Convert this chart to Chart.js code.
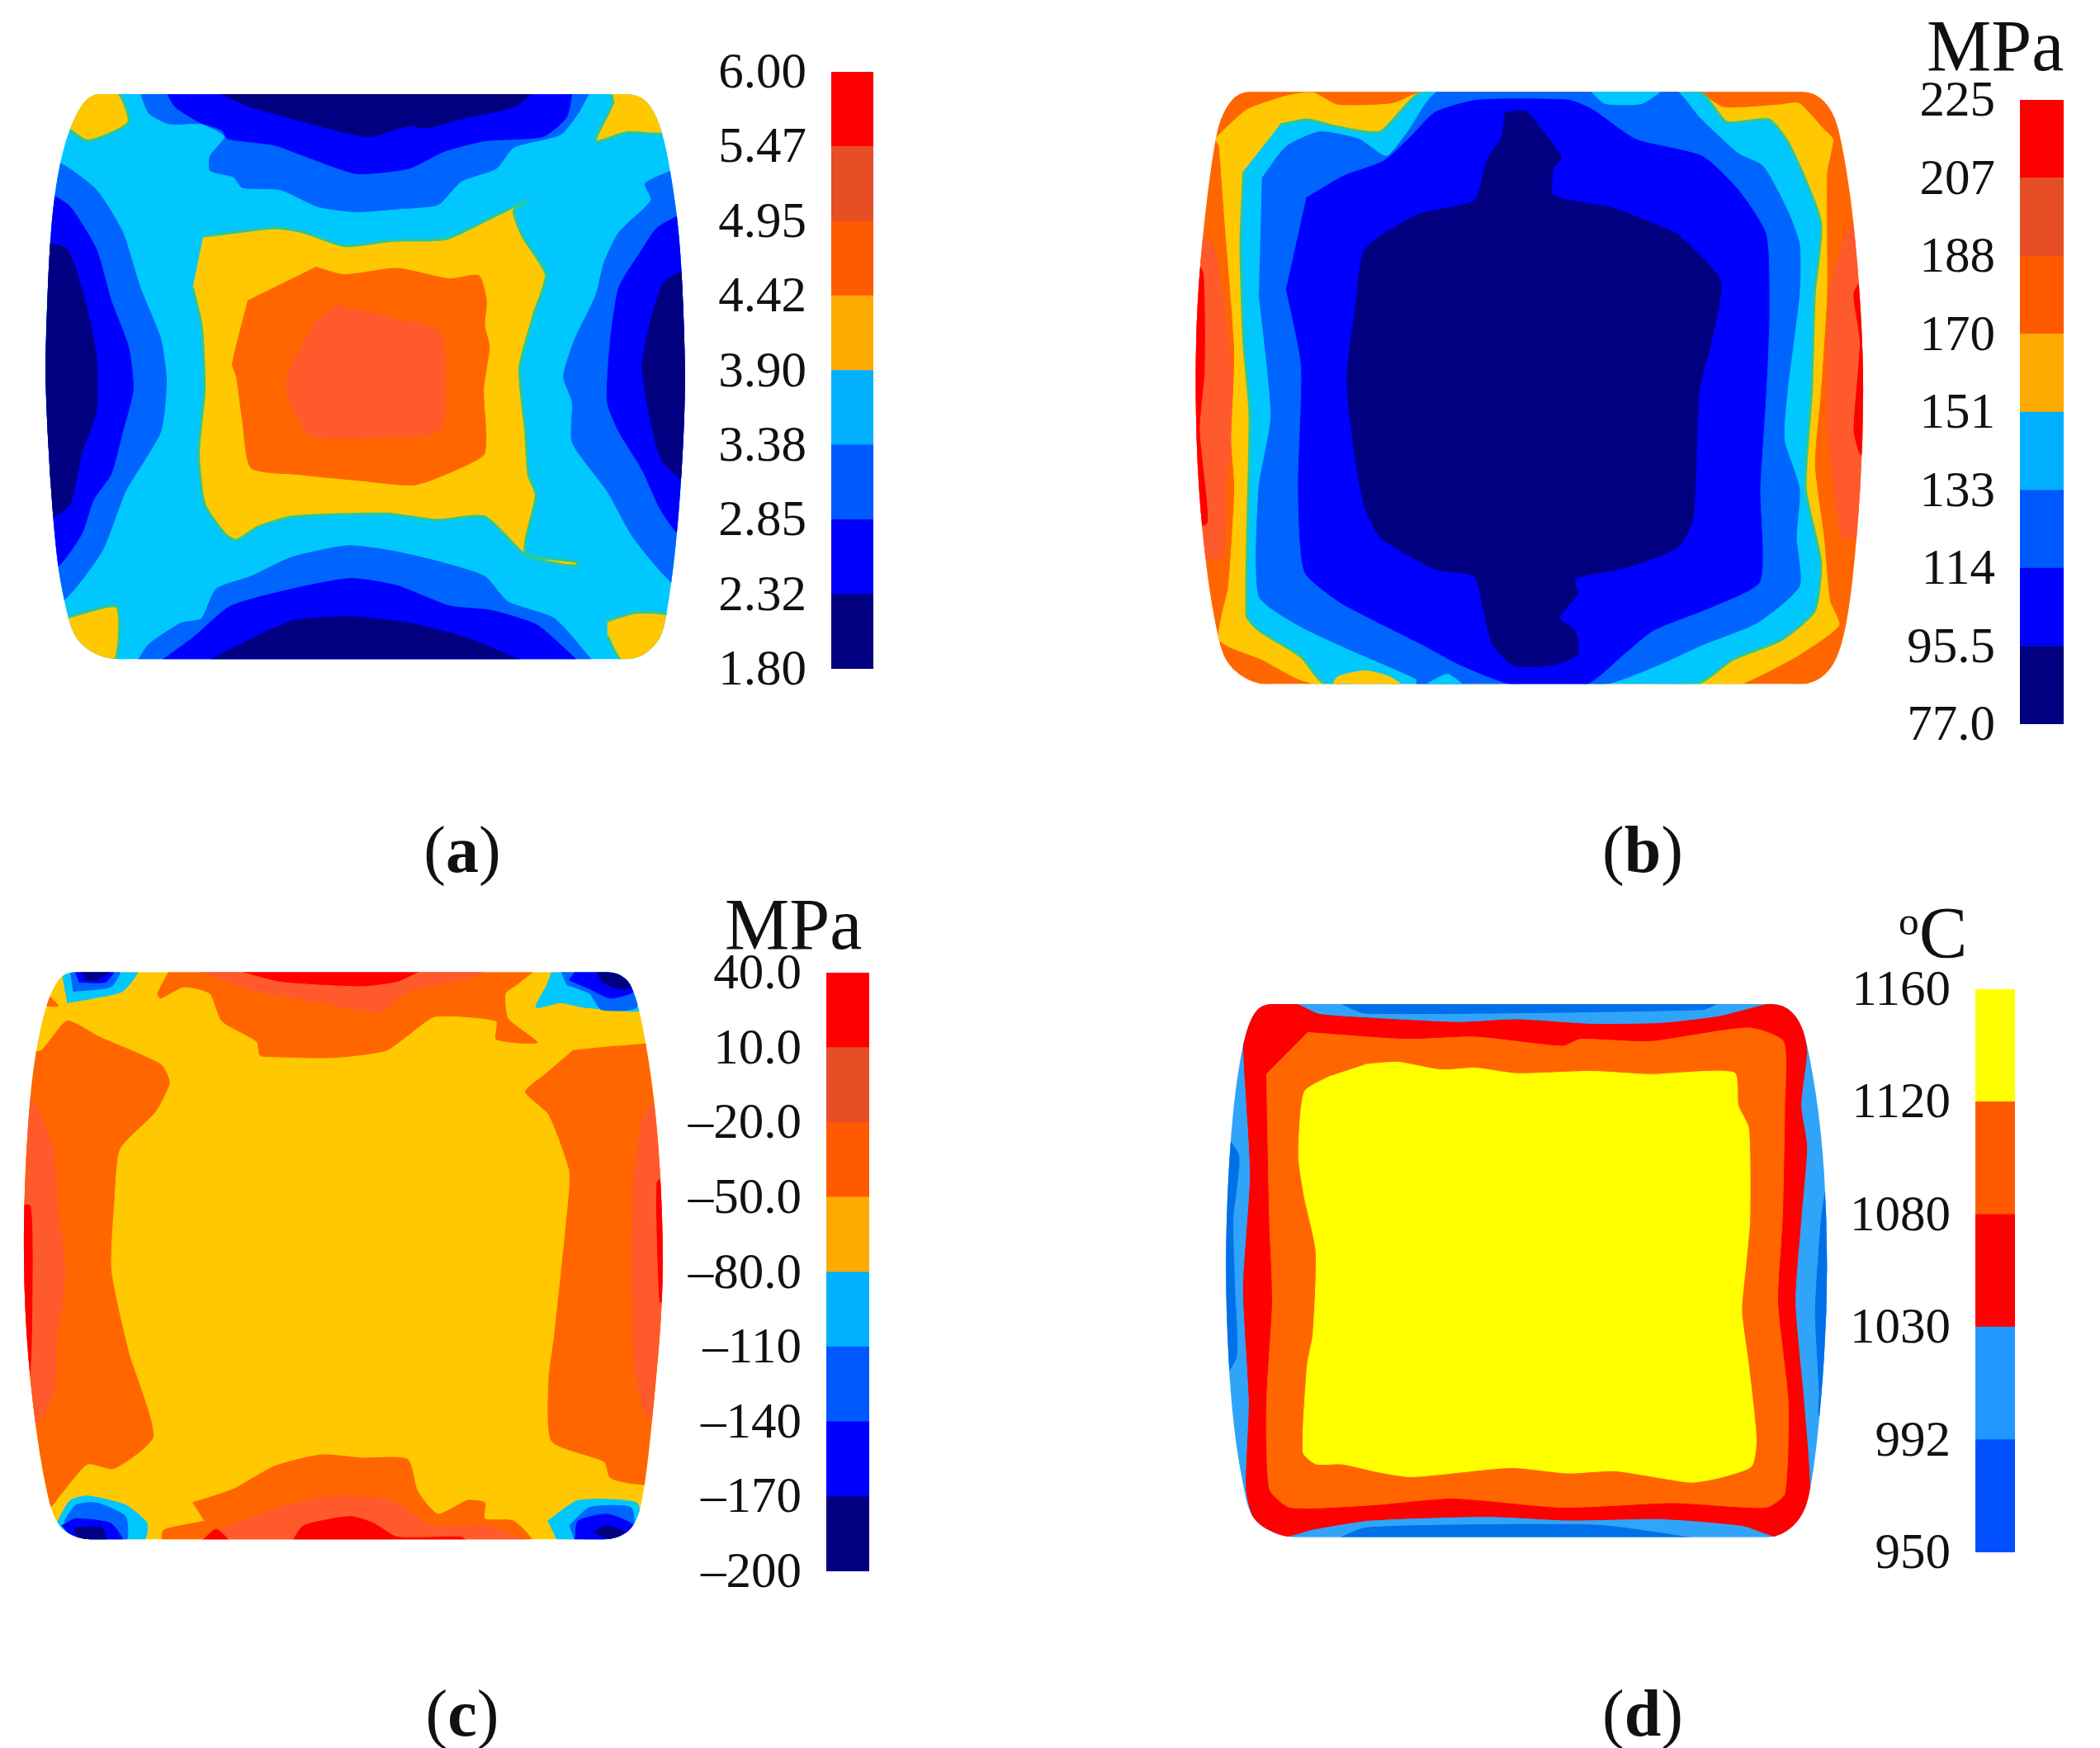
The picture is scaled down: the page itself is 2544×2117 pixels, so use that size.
<!DOCTYPE html>
<html>
<head>
<meta charset="utf-8">
<title>Contour maps</title>
<script src="https://cdn.jsdelivr.net/npm/chart.js@4"></script>
<style>
  html, body { margin: 0; padding: 0; background: #fff; width: 2544px; height: 2117px; overflow: hidden; }
  canvas { position: absolute; }
  .txt { position: absolute; font-family: "Liberation Serif", serif; color: #111; line-height: 1; white-space: nowrap; }
  .unit { font-size: 88px; }
  .cap { font-size: 80px; transform: translateX(-50%); }
  sup { font-size: 56%; vertical-align: 0.55em; line-height: 0; }
</style>
</head>
<body>
<canvas id="mapA"></canvas><canvas id="barA"></canvas>
<canvas id="mapB"></canvas><canvas id="barB"></canvas>
<canvas id="mapC"></canvas><canvas id="barC"></canvas>
<canvas id="mapD"></canvas><canvas id="barD"></canvas>
<div class="txt unit" style="left:2334px;top:12px">MPa</div>
<div class="txt unit" style="left:878px;top:1076px">MPa</div>
<div class="txt unit" style="left:2300px;top:1086px"><sup>o</sup>C</div>
<div class="txt cap" style="left:560px;top:989px">(<b>a</b>)</div>
<div class="txt cap" style="left:1990px;top:989px">(<b>b</b>)</div>
<div class="txt cap" style="left:560px;top:2035px">(<b>c</b>)</div>
<div class="txt cap" style="left:1990px;top:2035px">(<b>d</b>)</div>
<script>
// colour bar labels, bottom to top
const ticksA = ['1.80', '2.32', '2.85', '3.38', '3.90', '4.42', '4.95', '5.47', '6.00'];
const ticksB = ['77.0', '95.5', '114', '133', '151', '170', '188', '207', '225'];
const ticksC = ['–200', '–170', '–140', '–110', '–80.0', '–50.0', '–20.0', '10.0', '40.0'];
const ticksD = ['950', '992', '1030', '1080', '1120', '1160'];

const barColors = ['#000080', '#0000ff', '#0058ff', '#00b0ff', '#ffaa00', '#ff5a00', '#e64e26', '#ff0000'];
const barColorsD = ['#0050ff', '#2098ff', '#ff0000', '#ff5a00', '#ffff00'];

// map colours
const navy = '#000080', blue = '#0000ff', mid = '#0064ff', sky = '#00c8ff';
const gold = '#ffc800', orange = '#ff6600', coral = '#ff5a2b', red = '#ff0000';
const skyD = '#30a4f8', midD = '#0070e8', yellow = '#ffff00';

// ----- panel a, contour outlines
const outlineA = [[150,105],[190,105],[1050,105],[1090,105],[1115,130],[1135,195],[1150,300],[1165,450],[1173,700],[1173,850],[1165,1050],[1155,1200],[1145,1300],[1135,1380],[1110,1420],[1085,1435],[1050,1435],[225,1435],[190,1435],[155,1420],[125,1380],[110,1300],[97,1200],[85,1000],[78,800],[78,700],[85,450],[97,300],[118,185]];
const aTopMid = [[240,100],[255,150],[290,175],[345,175],[385,205],[360,250],[360,285],[400,300],[415,325],[480,330],[545,370],[610,382],[680,375],[750,365],[790,310],[850,280],[880,230],[960,200],[990,150],[1010,100]];
const aTopBlue = [[285,100],[300,135],[340,170],[380,190],[390,210],[470,225],[520,250],[610,292],[700,280],[760,240],[830,215],[930,205],[970,160],[980,100]];
const aTopNavy = [[370,100],[430,135],[520,170],[630,205],[700,180],[730,185],[800,160],[880,135],[915,100]];
const aLeftMid = [[60,262],[100,265],[165,330],[210,430],[240,560],[275,680],[285,780],[275,900],[215,1040],[175,1180],[110,1295],[60,1295]];
const aLeftBlue = [[60,340],[85,340],[120,370],[165,470],[190,590],[220,700],[228,800],[210,900],[190,1000],[160,1060],[140,1140],[100,1215],[60,1215]];
const aLeftNavy = [[60,450],[115,470],[145,590],[165,720],[165,850],[140,950],[120,1070],[90,1100],[60,1100]];
const aRightMid = [[1160,280],[1105,315],[1115,355],[1060,430],[1035,500],[1020,580],[985,680],[965,770],[980,830],[980,925],[1040,1040],[1085,1150],[1155,1260],[1200,1260],[1200,280]];
const aRightBlue = [[1170,385],[1125,420],[1100,470],[1060,560],[1045,690],[1040,830],[1060,900],[1100,990],[1130,1080],[1165,1145],[1200,1145],[1200,385]];
const aRightNavy = [[1190,510],[1135,550],[1100,740],[1115,880],[1135,970],[1190,1040]];
const aBotMid = [[235,1440],[255,1400],[310,1350],[345,1340],[370,1270],[430,1240],[500,1195],[595,1168],[670,1180],[750,1205],[830,1240],[870,1300],[950,1340],[1015,1440]];
const aBotBlue = [[275,1440],[330,1385],[395,1310],[500,1270],[600,1245],[680,1262],[770,1310],[840,1320],[920,1355],[990,1440]];
const aBotNavy = [[355,1440],[420,1395],[500,1345],[600,1335],[700,1350],[800,1385],[895,1440]];
const aCornerTL = [[100,100],[200,100],[220,172],[150,215],[115,185]];
const aCornerTR = [[1045,100],[1050,125],[1020,215],[1075,195],[1145,195],[1145,100]];
const aCornerTRtip = [[1085,100],[1125,100],[1125,130]];
const aCornerBL = [[100,1345],[120,1335],[200,1312],[195,1440],[100,1440]];
const aCornerBR = [[1040,1345],[1090,1325],[1150,1335],[1150,1440],[1065,1440],[1040,1380]];
const aCentre = [[348,440],[470,420],[520,430],[590,462],[670,450],[765,445],[850,390],[905,355],[880,380],[895,440],[935,530],[915,620],[890,750],[900,900],[905,1000],[918,1050],[900,1185],[985,1205],[990,1215],[960,1212],[900,1190],[830,1100],[750,1108],[660,1093],[500,1100],[440,1125],[405,1155],[385,1140],[350,1070],[340,950],[350,800],[345,650],[330,560]];
const aCore = [[540,512],[590,530],[680,515],[770,540],[820,532],[833,590],[830,650],[838,700],[828,800],[830,950],[780,990],[710,1025],[620,1015],[510,1000],[430,985],[415,870],[405,770],[398,740],[425,590]];
const aPeak = [[575,600],[680,635],[755,665],[755,895],[660,912],[530,908],[490,785],[540,640]];

// ----- panel b
const outlineB = [[135,188],[175,188],[1045,188],[1085,188],[1115,225],[1130,290],[1150,450],[1165,700],[1165,900],[1155,1100],[1140,1270],[1120,1360],[1085,1400],[1045,1400],[200,1400],[160,1400],[115,1360],[100,1290],[85,1180],[70,1000],[65,800],[68,620],[80,450],[97,290],[110,230]];
const bLeftCoral = [[60,480],[95,500],[120,700],[132,850],[115,1000],[110,1140],[60,1140]];
const bLeftRed = [[60,520],[78,560],[80,760],[72,880],[85,1070],[60,1080]];
const bRightCoral = [[1170,430],[1140,470],[1110,600],[1105,850],[1130,1100],[1170,1100]];
const bRightRed = [[1170,560],[1150,600],[1160,700],[1150,880],[1160,930],[1170,930]];
const bGoldRing = [[97,285],[150,225],[220,195],[260,190],[300,215],[390,212],[440,188],[890,188],[935,220],[1025,215],[1060,212],[1100,265],[1115,285],[1105,355],[1105,600],[1095,800],[1085,950],[1100,1100],[1110,1230],[1125,1280],[1060,1340],[1000,1380],[950,1405],[285,1405],[235,1390],[175,1350],[105,1310],[120,1200],[130,1000],[125,900],[130,720],[115,470],[105,300]];
const bSkyRing = [[205,255],[250,245],[300,260],[370,270],[440,188],[895,188],[940,250],[1010,245],[1045,300],[1095,455],[1085,600],[1080,800],[1070,1000],[1095,1150],[1085,1250],[1030,1310],[950,1350],[890,1400],[280,1400],[240,1345],[170,1290],[150,1260],[155,850],[145,700],[140,500],[145,350]];
const bBotGold = [[290,1405],[300,1385],[345,1373],[385,1385],[410,1405]];
const bMidRing = [[175,365],[215,300],[270,270],[335,285],[380,320],[415,270],[465,188],[720,188],[740,210],[830,188],[860,188],[895,240],[960,315],[1000,340],[1040,430],[1060,500],[1060,600],[1040,800],[1035,900],[1060,1000],[1055,1100],[1060,1200],[990,1275],[900,1320],[830,1360],[740,1400],[430,1400],[430,1390],[320,1330],[235,1280],[170,1220],[170,1000],[190,850],[170,600]];
const bTopSky = [[715,185],[740,212],[800,212],[835,185]];
const bBotSky = [[440,1405],[480,1380],[510,1405]];
const bBlueRing = [[248,405],[310,360],[375,330],[420,280],[460,230],[530,205],[680,205],[720,225],[790,285],[900,320],[960,390],[1005,480],[1010,640],[1005,800],[995,1000],[995,1190],[920,1240],[820,1290],[770,1340],[710,1400],[585,1400],[500,1360],[440,1320],[360,1270],[300,1230],[245,1170],[235,1000],[240,750],[215,590]];
const bCore = [[575,230],[610,228],[635,265],[668,322],[655,345],[655,400],[750,425],[825,460],[860,480],[930,575],[915,700],[895,800],[885,1060],[860,1120],[780,1160],[690,1185],[695,1215],[665,1265],[690,1290],[695,1340],[650,1362],[590,1362],[555,1320],[540,1250],[525,1180],[460,1165],[370,1100],[345,1040],[330,950],[315,780],[330,620],[345,510],[430,440],[525,410],[545,330],[570,280]];

// ----- panel c
const outlineC = [[108,158],[148,158],[1020,158],[1060,158],[1085,190],[1105,300],[1125,480],[1135,700],[1135,880],[1120,1100],[1105,1280],[1090,1370],[1055,1400],[1015,1400],[175,1400],[135,1400],[95,1370],[75,1270],[55,1100],[42,900],[40,680],[50,440],[65,300],[85,205]];
const cLeftOrange = [[30,330],[70,330],[115,265],[170,300],[275,360],[290,400],[265,465],[205,545],[195,660],[190,810],[220,990],[262,1175],[195,1245],[150,1235],[105,1300],[85,1330],[30,1330]];
const cLeftCoral = [[30,440],[55,440],[90,540],[100,680],[112,820],[95,980],[95,1060],[70,1140],[30,1140]];
const cLeftRed = [[30,670],[52,670],[55,850],[50,1050],[30,1050]];
const cRightOrange = [[980,330],[1060,320],[1140,325],[1140,1275],[1085,1278],[1045,1265],[1035,1230],[945,1185],[940,1050],[950,950],[975,640],[975,590],[940,470],[900,420],[930,385]];
const cRightCoral = [[1140,440],[1105,460],[1085,620],[1085,1000],[1100,1110],[1125,1150],[1140,1150]];
const cRightRed = [[1140,600],[1125,620],[1130,880],[1140,880]];
const cTopOrange = [[290,155],[270,205],[275,215],[315,190],[360,205],[380,265],[440,310],[445,340],[465,343],[570,345],[660,330],[700,295],[745,255],[850,265],[850,305],[920,312],[870,260],[865,205],[885,185],[915,155]];
const cTopCoral = [[340,155],[440,200],[550,225],[650,245],[700,200],[820,165],[830,155]];
const cTopRed = [[410,155],[480,178],[620,188],[680,178],[720,155]];
const cTLsky = [[105,155],[235,155],[210,200],[160,215],[115,225]];
const cTLmid = [[120,155],[205,155],[190,190],[125,200]];
const cTLblue = [[128,155],[195,155],[180,180],[135,180]];
const cTLnavy = [[140,155],[188,155],[165,175],[145,175]];
const cTLtip = [[80,205],[100,232],[80,232]];
const cTRsky = [[945,155],[1075,155],[1105,240],[1000,235],[960,225],[918,235],[935,190]];
const cTRmid = [[960,155],[1075,155],[1090,235],[1030,240],[1010,205],[970,185]];
const cTRblue = [[985,155],[1065,155],[1085,200],[1045,215],[1010,195],[975,175]];
const cTRnavy = [[1020,155],[1065,155],[1085,190],[1060,195],[1030,180]];
const cBotOrange = [[330,1320],[400,1290],[470,1240],[550,1215],[620,1222],[698,1225],[715,1295],[750,1345],[800,1315],[830,1320],[830,1355],[880,1360],[910,1405],[280,1405],[280,1380],[350,1360]];
const cBotCoral = [[380,1375],[480,1330],[570,1305],[670,1315],[740,1370],[830,1370],[900,1405],[340,1405]];
const cBotRed = [[500,1405],[520,1370],[600,1350],[640,1365],[680,1395],[790,1395],[800,1405]];
const cBotRed2 = [[345,1405],[370,1378],[395,1405]];
const cBLsky = [[95,1370],[120,1315],[150,1305],[215,1325],[252,1365],[245,1405],[130,1405]];
const cBLmid = [[110,1360],[130,1325],[165,1320],[215,1350],[215,1405],[125,1405]];
const cBLblue = [[105,1370],[130,1355],[190,1365],[210,1405],[130,1405]];
const cBLnavy = [[125,1375],[175,1375],[180,1405],[135,1405]];
const cBRsky = [[938,1360],[990,1315],[1090,1320],[1095,1375],[1055,1405],[955,1405]];
const cBRmid = [[975,1370],[1010,1330],[1080,1330],[1085,1380],[1050,1405],[985,1405]];
const cBRblue = [[985,1400],[990,1360],[1040,1345],[1085,1370],[1055,1405]];
const cBRnavy = [[1015,1385],[1040,1370],[1070,1385],[1050,1405]];

// ----- panel d
const outlineD = [[110,228],[150,228],[970,228],[1010,228],[1040,265],[1055,340],[1075,500],[1085,700],[1085,900],[1075,1100],[1060,1270],[1045,1350],[1005,1395],[965,1395],[185,1395],[145,1395],[95,1360],[80,1290],[60,1130],[50,900],[50,700],[60,480],[75,340],[90,265]];
const dLeftMid = [[40,500],[72,560],[62,700],[65,850],[68,1000],[40,1060]];
const dRightMid = [[1072,470],[1085,600],[1075,700],[1065,900],[1072,1080],[1072,1130],[1110,1130],[1110,470]];
const dTopMid = [[245,225],[290,248],[870,240],[900,225]];
const dBotMid = [[240,1400],[290,1375],[500,1368],[700,1370],[870,1400]];
const dRed = [[110,228],[170,228],[210,250],[290,258],[450,268],[550,262],[680,272],[800,270],[900,255],[985,228],[1015,228],[1040,270],[1050,330],[1040,450],[1050,540],[1040,700],[1030,880],[1045,1100],[1055,1290],[1040,1355],[1005,1395],[940,1370],[800,1355],[640,1358],[500,1350],[300,1358],[200,1378],[145,1395],[100,1360],[85,1290],[90,1100],[80,850],[92,600],[80,310],[90,265]];
const dOrange = [[190,290],[360,305],[480,300],[630,320],[660,305],[780,310],[950,280],[1010,310],[1012,450],[1008,700],[1000,880],[1018,1100],[1012,1300],[980,1330],[820,1320],[630,1330],[440,1310],[300,1325],[160,1330],[125,1290],[120,1100],[130,880],[125,700],[120,380]];
const dYellow = [[290,360],[345,355],[420,372],[480,368],[550,380],[680,375],[780,382],[925,378],[932,450],[950,500],[952,700],[945,800],[938,900],[950,1020],[963,1180],[955,1240],[900,1265],[850,1275],[720,1250],[640,1255],[540,1243],[370,1263],[310,1252],[250,1235],[205,1235],[183,1210],[190,1020],[200,950],[205,770],[185,650],[175,560],[185,420],[230,385]];

// keep every contour inside the section outline, corners rounded off
const clipOutline = {
  id: 'clipOutline',
  beforeDatasetsDraw(chart, args, opts) {
    const ctx = chart.ctx;
    const pts = opts.points.map(p => [chart.scales.x.getPixelForValue(p[0]), chart.scales.y.getPixelForValue(p[1])]);
    const half = (a, b) => [(a[0] + b[0]) / 2, (a[1] + b[1]) / 2];
    ctx.save();
    ctx.beginPath();
    const start = half(pts[pts.length - 1], pts[0]);
    ctx.moveTo(start[0], start[1]);
    pts.forEach(function (p, i) {
      const next = half(p, pts[(i + 1) % pts.length]);
      ctx.quadraticCurveTo(p[0], p[1], next[0], next[1]);
    });
    ctx.closePath();
    ctx.clip();
  },
  afterDatasetsDraw(chart) {
    chart.ctx.restore();
  }
};

function place(id, left, top, width, height) {
  const c = document.getElementById(id);
  c.style.left = left + 'px';
  c.style.top = top + 'px';
  c.width = width;
  c.height = height;
  return c;
}

function layer(points, color, edge) {
  return {
    data: points.map(p => ({ x: p[0], y: p[1] })),
    showLine: true,
    fill: 'shape',
    backgroundColor: color,
    borderColor: edge || color,
    borderWidth: edge ? 3 : 1,
    pointRadius: 0,
    tension: 0.2
  };
}

// layers are listed back to front, Chart.js paints the last dataset first
function drawMap(id, box, outline, layers) {
  const canvas = place(id, box[0], box[1], box[2], box[3]);
  new Chart(canvas, {
    type: 'scatter',
    data: { datasets: layers.slice().reverse() },
    plugins: [clipOutline],
    options: {
      responsive: false,
      animation: false,
      devicePixelRatio: 1,
      layout: { padding: 0 },
      plugins: { legend: { display: false }, tooltip: { enabled: false }, clipOutline: { points: outline } },
      scales: {
        x: { display: false, min: 0, max: 1555 },
        y: { display: false, min: 0, max: 1555, reverse: true }
      }
    }
  });
}

function drawBar(id, box, labels, colors) {
  const labelWidth = 240, pad = 70;
  const canvas = place(id, box[0] - labelWidth, box[1] - pad, box[2] + labelWidth, box[3] + pad * 2);
  new Chart(canvas, {
    type: 'bar',
    data: {
      labels: [''],
      datasets: colors.map((c, i) => ({
        data: [[i, i + 1]],
        backgroundColor: c,
        barPercentage: 1,
        categoryPercentage: 1,
        borderWidth: 0
      }))
    },
    options: {
      responsive: false,
      animation: false,
      devicePixelRatio: 1,
      layout: { padding: { top: pad, bottom: pad } },
      plugins: { legend: { display: false }, tooltip: { enabled: false } },
      scales: {
        x: { display: false, stacked: true },
        y: {
          min: 0,
          max: labels.length - 1,
          afterFit(scale) { scale.width = labelWidth; },
          border: { display: false },
          grid: { display: false, drawTicks: false },
          ticks: {
            stepSize: 1,
            autoSkip: false,
            padding: 30,
            labelOffset: 3,
            color: '#111',
            font: { family: '"Liberation Serif", serif', size: 61 },
            callback: v => labels[v]
          }
        }
      }
    }
  });
}

drawMap('mapA', [0, 60, 1100, 800], outlineA, [
  layer(outlineA, sky),
  layer(aTopMid, mid), layer(aTopBlue, blue), layer(aTopNavy, navy),
  layer(aLeftMid, mid), layer(aLeftBlue, blue), layer(aLeftNavy, navy),
  layer(aRightMid, mid), layer(aRightBlue, blue), layer(aRightNavy, navy),
  layer(aBotMid, mid), layer(aBotBlue, blue), layer(aBotNavy, navy),
  layer(aCornerTL, gold, '#30c890'), layer(aCornerTR, gold, '#30c890'), layer(aCornerTRtip, orange),
  layer(aCornerBL, gold, '#30c890'), layer(aCornerBR, gold, '#30c890'),
  layer(aCentre, gold, '#30c890'), layer(aCore, orange), layer(aPeak, coral)
]);
drawBar('barA', [1007, 87, 51, 723], ticksA, barColors);

drawMap('mapB', [1400, 0, 1144, 920], outlineB, [
  layer(outlineB, orange),
  layer(bLeftCoral, coral), layer(bLeftRed, red), layer(bRightCoral, coral), layer(bRightRed, red),
  layer(bGoldRing, gold), layer(bSkyRing, sky, '#30c890'), layer(bBotGold, gold),
  layer(bMidRing, mid), layer(bTopSky, sky), layer(bBotSky, sky),
  layer(bBlueRing, blue), layer(bCore, navy)
]);
drawBar('barB', [2447, 121, 53, 756], ticksB, barColors);

drawMap('mapC', [0, 1090, 1100, 860], outlineC, [
  layer(outlineC, gold),
  layer(cLeftOrange, orange), layer(cLeftCoral, coral), layer(cLeftRed, red),
  layer(cRightOrange, orange), layer(cRightCoral, coral), layer(cRightRed, red),
  layer(cTopOrange, orange), layer(cTopCoral, coral), layer(cTopRed, red),
  layer(cBotOrange, orange), layer(cBotCoral, coral), layer(cBotRed, red), layer(cBotRed2, red),
  layer(cTLtip, orange),
  layer(cTLsky, sky), layer(cTLmid, mid), layer(cTLblue, blue), layer(cTLnavy, navy),
  layer(cTRsky, sky), layer(cTRmid, mid), layer(cTRblue, blue), layer(cTRnavy, navy),
  layer(cBLsky, sky), layer(cBLmid, mid), layer(cBLblue, blue), layer(cBLnavy, navy),
  layer(cBRsky, sky), layer(cBRmid, mid), layer(cBRblue, blue), layer(cBRnavy, navy)
]);
drawBar('barC', [1001, 1178, 52, 725], ticksC, barColors);

drawMap('mapD', [1450, 1090, 1094, 860], outlineD, [
  layer(outlineD, skyD),
  layer(dLeftMid, midD), layer(dRightMid, midD), layer(dTopMid, midD), layer(dBotMid, midD),
  layer(dRed, red), layer(dOrange, orange), layer(dYellow, yellow)
]);
drawBar('barD', [2393, 1198, 48, 682], ticksD, barColorsD);
</script>
</body>
</html>
